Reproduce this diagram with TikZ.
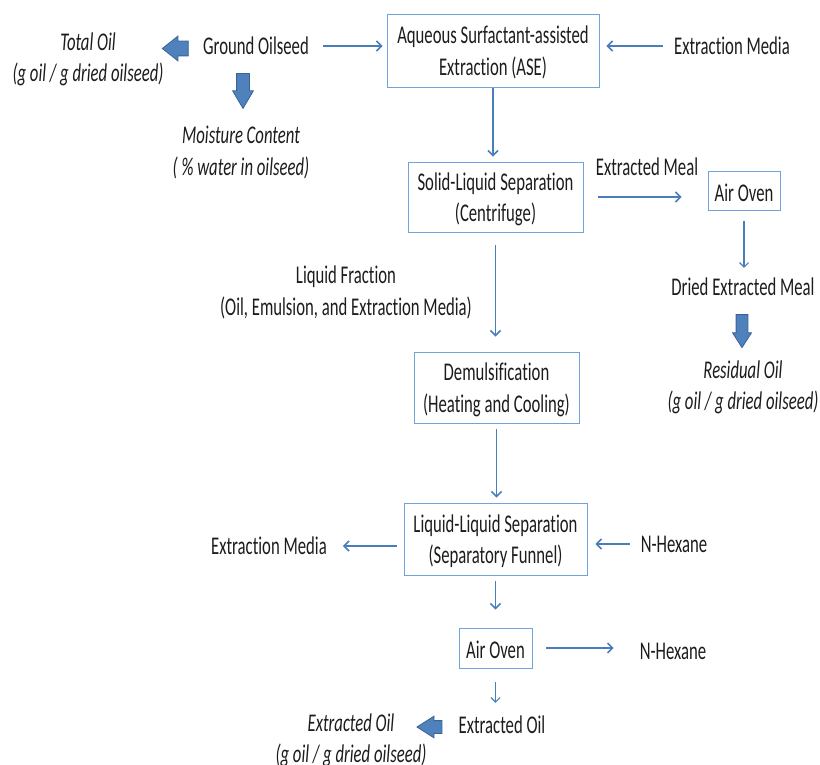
\documentclass[tikz,border=0pt]{standalone}
\usepackage{fontspec}
\setmainfont{Carlito}[FakeStretch=0.655, Ligatures=NoCommon]
\usetikzlibrary{arrows.meta,shapes.arrows}

\definecolor{boxblue}{HTML}{6FA3DA}
\definecolor{linkblue}{HTML}{4A7EBB}
\definecolor{fatfill}{HTML}{4F81BD}
\definecolor{fatedge}{HTML}{3A6396}
\definecolor{inkgray}{HTML}{1C1C1C}

% taller first line, so two-line texts sit a little lower
\newcommand{\firstlinestrut}{\rule{0pt}{22pt}}

\tikzset{
  every node/.style={font=\fontsize{25.5}{31.5}\selectfont, text=inkgray},
  stage/.style={draw=boxblue, line width=0.9pt, inner sep=0pt, align=center},
  lbl/.style={inner sep=0pt, text height=19pt, text depth=2pt},
  lbltwo/.style={inner sep=0pt, align=center},
  arr/.style={draw=linkblue, line width=1.5pt,
    -{Straight Barb[length=5pt,width=10pt,line width=1.5pt]}},
  arrthin/.style={draw=linkblue, line width=1.1pt,
    -{Straight Barb[length=4.5pt,width=9pt,line width=1.1pt]}},
  fat/.style={single arrow, draw=fatedge, fill=fatfill, line width=0.8pt,
    inner xsep=0pt, single arrow tip angle=65},
}

\begin{document}
\begin{tikzpicture}[x=1pt, y=-1pt]
\useasboundingbox (0,0) rectangle (820,765);

% process stages
\node[stage, minimum width=212pt, minimum height=73pt] (ase) at (493,50.5)
  {\firstlinestrut Aqueous Surfactant-assisted\\Extraction (ASE)};
\node[stage, minimum width=175pt, minimum height=70pt] (sls) at (495.5,197)
  {\firstlinestrut Solid-Liquid Separation\\(Centrifuge)};
\node[stage, minimum width=72pt, minimum height=39pt] (ao1) at (744,190.5)
  {\firstlinestrut Air Oven};
\node[stage, minimum width=165pt, minimum height=71pt] (dmu) at (496.5,387.5)
  {\firstlinestrut Demulsification\\(Heating and Cooling)};
\node[stage, minimum width=183pt, minimum height=72pt] (lls) at (495.5,539)
  {\firstlinestrut Liquid-Liquid Separation\\(Separatory Funnel)};
\node[stage, minimum width=73pt, minimum height=40pt] (ao2) at (495.5,648)
  {\firstlinestrut Air Oven};

% streams and measurements
\node[lbl] (go) at (256,46) {Ground Oilseed};
\node[lbltwo] (tot) at (88,57)
  {\firstlinestrut\itshape Total Oil\\\itshape (g oil / g dried oilseed)};
\node[lbltwo] (moist) at (241,150.5)
  {\firstlinestrut\itshape Moisture Content\\\itshape ( \% water in oilseed)};
\node[lbl] (em1) at (732,46) {Extraction Media};
\node[lbl] (meal) at (647,167) {Extracted Meal};
\node[lbl] (dem) at (743,287) {Dried Extracted Meal};
\node[lbltwo] (res) at (743,385)
  {\firstlinestrut\itshape Residual Oil\\\itshape (g oil / g dried oilseed)};
\node[lbltwo] (liq) at (346,290.5)
  {\firstlinestrut Liquid Fraction\\(Oil, Emulsion, and Extraction Media)};
\node[lbl] (em2) at (269,546) {Extraction Media};
\node[lbl] (hex1) at (674,544) {N-Hexane};
\node[lbl] (hex2) at (673,651) {N-Hexane};
\node[lbl] (eo) at (502,725) {Extracted Oil};
\node[lbltwo] (eoi) at (351,738)
  {\firstlinestrut\itshape Extracted Oil\\\itshape (g oil / g dried oilseed)};

% block arrows to the measured quantities
\node[fat, rotate=180, minimum height=26pt, minimum width=24pt, inner ysep=7pt,
  single arrow head extend=5pt, single arrow tip angle=77] (fa1) at (180,48.5) {};
\node[fat, rotate=-90, minimum height=35pt, minimum width=20pt, inner ysep=6pt,
  single arrow head extend=4pt, single arrow tip angle=61] (fa2) at (243,85.5) {};
\node[fat, rotate=-90, minimum height=33pt, minimum width=18pt, inner ysep=5.5pt,
  single arrow head extend=3.5pt] (fa3) at (742,326.5) {};
\node[fat, rotate=180, minimum height=25pt, minimum width=21pt, inner ysep=6pt,
  single arrow head extend=4.5pt] (fa4) at (434.5,727) {};

% flow connectors
\draw[arr, shorten <=13.5pt, shorten >=4pt] (go.east) -- (go.east -| ase.west);
\draw[arr, shorten <=11.5pt, shorten >=7pt] (em1.west) -- (em1.west -| ase.east);
\draw[arr, shorten <=1pt, shorten >=5pt] (ase.south) -- (ase.south |- sls.north);
\draw[arr, shorten <=15pt, shorten >=26pt] (sls.east) -- (sls.east -| ao1.west);
\draw[arrthin, shorten <=11pt, shorten >=8.5pt] (ao1.south) -- (ao1.south |- dem.north);
\draw[arr, shorten <=13pt, shorten >=15pt] (sls.south) -- (sls.south |- dmu.north);
\draw[arr, shorten <=6pt, shorten >=5pt] (dmu.south) -- (dmu.south |- lls.north);
\draw[arr, shorten <=7pt, shorten >=16pt] (em2.east -| lls.west) -- (em2.east);
\draw[arr, shorten <=11pt, shorten >=8pt] (hex1.west) -- (hex1.west -| lls.east);
\draw[arr, shorten <=6pt, shorten >=18pt] (lls.south) -- (lls.south |- ao2.north);
\draw[arr, shorten <=14pt, shorten >=26pt] (ao2.east) -- (ao2.east -| hex2.west);
\draw[arrthin, shorten <=14pt, shorten >=11.5pt] (ao2.south) -- (ao2.south |- eo.north);
\end{tikzpicture}
\end{document}
